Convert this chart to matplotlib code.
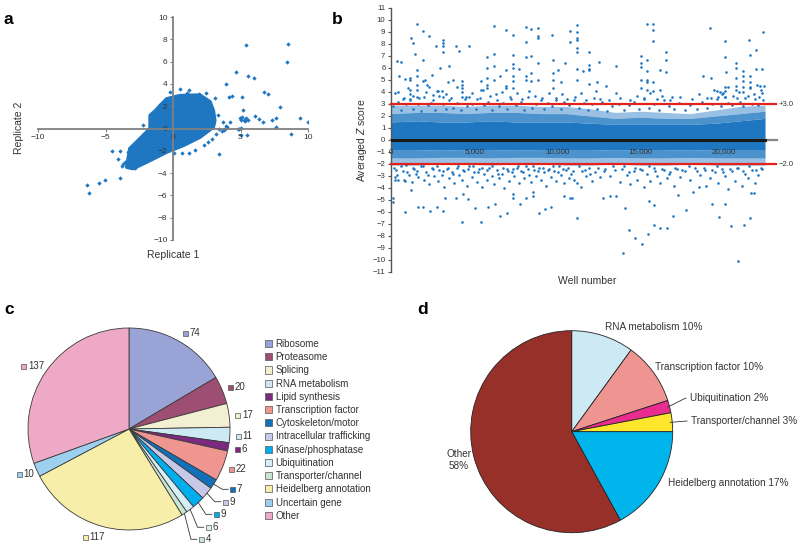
import numpy as np
import matplotlib
matplotlib.use("Agg")
import matplotlib.pyplot as plt
from matplotlib.patches import Polygon, Patch

plt.rcParams['font.family'] = ['Liberation Sans', 'DejaVu Sans']
plt.rcParams['mathtext.fontset'] = 'custom'
plt.rcParams['mathtext.it'] = 'Liberation Sans:italic'

BLUE = '#1f77c1'
GREY = '#333333'

# ---------------- Panel a data ----------------
a_blob_x = [-1.7, -1.3, -0.96, -0.47, 0.5, 2.0, 2.74, 2.99, 3.1, 2.99, 2.0, 0.77, -0.47, -1.7,
            -2.96, -3.43, -3.2, -2.44, -1.7]
a_blob_y = [1.17, 1.6, 2.06, 2.66, 2.95, 3.0, 2.4, 1.61, 0.72, 0.12, -0.78, -1.52, -2.12, -2.87,
            -3.6, -3.47, -1.8, -0.9, 0.0]
a_pts_x = [5.4, 8.5, 8.45, 4.7, 5.55, 6.0, 3.9, 4.15, 4.4, 5.1, 6.75, 7.0, 7.9, 5.15, 6.05,
           4.95, 5.1, 5.25, 5.4, 5.55, 5.0, 5.3, 6.4, 6.65, 7.3, 7.6, 9.4, 10.0, 7.65, 8.75,
           5.45, 5.0, 4.8, 4.9, 5.05, 3.4, 4.25, 3.95, 3.15, 0.1, 0.65, 1.15, 1.6,
           -6.4, -6.2, -5.5, -5.05, -3.9, -4.55, -4.05, -3.8, -2.25, 0.5, 1.2, 2.45,
           -2.6, -3.0, -3.3, -2.2, -1.95, 3.7, 3.8, 3.9, 2.9, 2.6, 2.3,
           -0.2, 1.0, 1.9, 3.1, -3.7, -3.55, -2.8, -3.9, 4.0, 3.6, 3.4, 3.3]
a_pts_y = [7.5, 7.6, 6.0, 5.1, 4.7, 4.55, 4.0, 2.85, 2.9, 2.8, 3.25, 3.1, 1.9, 1.7, 1.1,
           0.9, 1.0, 0.8, 0.95, 0.75, 0.75, 0.7, 0.85, 0.6, 0.8, 0.9, 0.9, 0.6, 0.15, -0.45,
           -0.6, -0.6, 0.0, -0.05, 0.05, -2.3, 0.55, 0.05, -0.45, -2.2, -2.2, -2.2, -1.9,
           -5.1, -5.75, -4.85, -4.6, -4.4, -2.05, -2.7, -3.35, 0.3, 3.5, 3.45, 3.2,
           -1.95, -2.05, -2.1, -1.3, -0.9, 0.6, -0.1, 0.2, -0.9, -1.2, -1.5,
           3.3, 3.2, 3.1, 2.7, -3.2, -3.0, -3.5, -2.0, 0.1, -0.2, 0.0, 1.2]
a_ticks_x = [-10, -5, 0, 5, 10]
a_ticks_y = [-10, -8, -6, -4, -2, 0, 2, 4, 6, 8, 10]

# ---------------- Panel b data ----------------
b_band_x = [0, 1500, 3000, 4500, 6000, 7500, 9000, 10500, 12000, 13500, 15000, 16500, 18000, 19500, 21000, 22500]
b_band_hi = [1.5, 1.6, 1.5, 1.5, 1.6, 1.5, 1.5, 1.5, 1.4, 1.3, 1.3, 1.3, 1.3, 1.4, 1.6, 1.8]
b_fuzz_hi_in = [2.2, 2.3, 2.3, 2.2, 2.3, 2.3, 2.2, 2.2, 2.0, 1.8, 1.9, 1.8, 1.8, 2.0, 2.2, 2.4]
b_fuzz_hi_out = [2.9, 2.9, 2.9, 2.8, 2.9, 2.9, 2.8, 2.8, 2.6, 2.3, 2.4, 2.3, 2.2, 2.5, 2.8, 2.9]
b_band_lo = [-0.85, -0.85, -0.8, -0.85, -0.85, -0.8, -0.85, -0.85, -0.85, -0.8, -0.85, -0.85, -0.8, -0.85, -0.85, -0.85]
b_fuzz_lo_in = [-1.5, -1.5, -1.45, -1.45, -1.5, -1.45, -1.45, -1.5, -1.5, -1.45, -1.5, -1.5, -1.45, -1.5, -1.5, -1.5]
b_fuzz_lo_out = [-2.1, -2.1, -2.0, -2.0, -2.1, -2.0, -2.0, -2.1, -2.1, -2.0, -2.1, -2.1, -2.0, -2.1, -2.1, -2.1]

b_hi_x = [380, 600, 440, 500, 840, 780, 1140, 1140, 1140, 1140, 1140, 1200, 1340, 1460, 1540, 1540, 1540,
          1540, 1540, 1540, 1940, 1940, 1900, 2040, 2140, 2300, 2300, 2440, 2540, 2700, 2740, 2940,
          3100, 3100, 3100, 3100, 3060, 3140, 3500, 3440, 3700, 3900, 4100, 4300, 4300, 4300, 4300,
          4300, 4700, 4700, 5400, 5400, 5780, 5780, 5780, 5780, 5780, 6180, 6200, 6200, 6200, 6580,
          6940, 6940, 6900, 6900, 7340, 7340, 7340, 7340, 7340, 7340, 7340, 7700, 8100, 8100, 8100,
          8100, 8100, 8440, 8440, 8440, 8440, 8840, 8840, 8840, 8840, 8840, 9660, 9740, 9740, 9740,
          9740, 10040, 10240, 10440, 10760, 10760, 11160, 11160, 11160, 11160, 11160, 11160, 11160,
          11160, 11520, 11920, 11920, 11920, 11920, 11920, 12400, 12520, 12320, 12960, 13520, 13520,
          15010, 15010, 15010, 15010, 15010, 15410, 15410, 15410, 15410, 15410, 15410, 15770, 15770,
          15770, 15770, 15770, 16170, 16170, 16570, 16570, 16570, 16910, 18770, 19210, 19250, 19270,
          19600, 19800, 19900, 20000, 20070, 20070, 20170, 20070, 20070, 20070, 20770, 20770, 20770,
          20770, 20770, 21170, 21170, 21170, 21170, 21170, 21540, 21620, 21620, 21620, 21620, 21980,
          21980, 22000, 22200, 22280, 22340, 22380, 22340]
b_hi_y = [6.6, 6.5, 4.0, 5.3, 5.1, 3.5, 5.2, 5.0, 4.2, 3.8, 3.3, 8.5, 8.1, 7.2, 9.65, 5.8, 5.3,
          4.6, 4.2, 3.6, 9.1, 6.65, 4.9, 5.0, 4.6, 4.4, 8.65, 5.4, 3.75, 7.8, 4.1, 6.0,
          8.3, 8.1, 7.8, 7.35, 4.1, 3.6, 6.2, 4.85, 5.0, 7.8, 7.4, 4.9, 4.6, 4.3, 4.0,
          3.6, 7.8, 3.6, 4.9, 4.2, 6.9, 6.0, 5.2, 4.6, 4.3, 9.5, 7.2, 6.2, 5.0, 5.3,
          9.15, 5.8, 4.5, 4.3, 8.75, 7.1, 6.3, 6.0, 5.35, 4.9, 4.3, 5.9, 9.45, 8.2, 6.9,
          5.35, 5.0, 9.25, 7.0, 5.55, 4.9, 9.3, 8.7, 8.5, 6.4, 5.0, 8.75, 6.65, 5.55, 5.0,
          4.3, 5.85, 4.85, 6.4, 9.1, 8.2, 9.6, 9.0, 8.5, 8.3, 7.65, 7.35, 5.95, 5.0,
          5.75, 7.3, 6.25, 5.95, 5.8, 4.65, 4.8, 6.5, 4.1, 4.5, 6.2, 3.95,
          7.0, 6.4, 6.1, 5.0, 4.3, 9.7, 6.7, 5.75, 5.0, 4.8, 4.2, 9.65, 9.2,
          8.25, 4.8, 4.1, 5.85, 4.15, 7.35, 6.65, 5.7, 3.6, 5.3, 9.3, 5.2, 3.5,
          4.1, 4.0, 3.8, 3.9, 8.25, 6.95, 5.7, 4.45, 4.05, 3.55, 6.4, 6.0, 5.2,
          4.5, 4.15, 5.75, 5.3, 4.9, 4.45, 4.0, 8.35, 7.1, 5.3, 4.85, 4.4, 7.5,
          5.9, 4.6, 4.5, 4.15, 3.9, 9.0, 5.9]
b_near_hi_x = [150, 400, 600, 900, 1150, 1300, 1600, 1800, 2000, 2200, 2400, 2650, 2900, 3100, 3300,
               3500, 3750, 4000, 4200, 4450, 4600, 4900, 5100, 5350, 5600, 5850, 6050, 6300, 6500,
               6750, 7000, 7200, 7500, 7800, 8000, 8250, 8500, 8700, 9000, 9200, 9450, 9700, 9950,
               10200, 10400, 10700, 11000, 11300, 11600, 11850, 12100, 12400, 12700, 13000, 13300,
               13700, 14000, 14300, 14600, 14900, 15200, 15500, 15800, 16100, 16400, 16700, 17000,
               17300, 17700, 18000, 18400, 18700, 19000, 19300, 19600, 19850, 20100, 20300, 20500,
               20800, 21000, 21200, 21450, 21700, 21900, 22100, 22350]
b_near_hi_y = [2.8, 3.2, 2.5, 3.0, 3.4, 2.6, 3.0, 2.4, 3.6, 2.9, 3.1, 2.5, 3.7, 3.0, 2.6,
               3.3, 2.7, 3.1, 2.5, 3.4, 2.8, 3.0, 2.6, 3.5, 2.9, 3.2, 2.5, 3.8, 2.8,
               3.1, 2.6, 3.4, 2.9, 3.2, 2.5, 3.6, 2.7, 3.0, 3.3, 2.6, 3.1, 2.8, 3.5,
               2.6, 3.2, 2.9, 3.3, 2.7, 3.1, 2.5, 3.0, 2.6, 3.2, 2.4, 2.8,
               3.0, 2.5, 2.9, 3.2, 2.6, 3.4, 2.7, 3.0, 2.5, 3.3, 2.8, 2.6,
               3.1, 2.5, 2.9, 2.6, 3.2, 2.7, 3.0, 3.4, 2.8, 3.6, 3.1, 2.9,
               3.5, 3.2, 2.8, 3.7, 3.0, 3.4, 2.9, 3.3]
b_mid_hi_x = [250, 700, 1000, 1350, 1700, 2100, 2500, 2850, 3300, 3600, 4000, 4500, 4850, 5200, 5550,
              5950, 6400, 6700, 7150, 7550, 7900, 8300, 8650, 9100, 9500, 9900, 10300, 10600, 11050,
              11400, 11750, 12200, 12600, 13100, 13800, 14400, 14800, 15200, 15600, 16000, 16300,
              16800, 17400, 18100, 18500, 19000, 19400, 19700, 20250, 20600, 20950, 21300, 21600,
              21850, 22150, 22450]
b_mid_hi_y = [3.9, 3.4, 4.3, 3.7, 3.5, 4.0, 3.3, 4.1, 3.8, 3.5, 4.4, 3.6, 3.9, 3.4, 4.2,
              3.7, 3.3, 4.0, 3.6, 3.9, 3.4, 4.1, 3.7, 3.5, 3.9, 3.3, 3.8, 3.4, 3.6,
              3.9, 3.3, 3.5, 3.4, 3.3, 3.5, 3.3, 3.7, 3.5, 3.9, 3.4, 3.7,
              3.3, 3.6, 3.4, 3.8, 3.5, 4.2, 3.6, 4.4, 3.7, 4.0, 3.5, 4.3,
              3.8, 3.6, 4.5]
b_lo_x = [100, 100, 840, 240, 240, 780, 1200, 1640, 1940, 2340, 2740, 3140, 3240, 3940, 4300, 4340,
          4640, 5080, 5440, 5840, 6240, 6580, 6980, 7340, 7340, 7740, 8140, 8540, 8540, 8900, 9280,
          9640, 10400, 10780, 10860, 11200, 12760, 13160, 13520, 13930, 14100, 14300, 14670, 15070,
          15470, 15510, 15810, 15850, 16210, 16610, 16970, 17270, 17750, 18170, 18530, 18930, 19330,
          19710, 20070, 20480, 20860, 21240, 21620, 21680, 21840]
b_lo_y = [-4.85, -5.15, -6.0, -3.3, -3.05, -3.3, -4.15, -5.55, -5.55, -5.95, -5.55, -5.95, -4.85,
          -4.8, -6.8, -4.5, -4.95, -5.65, -6.8, -5.55, -5.3, -6.35, -6.1, -4.5, -4.85, -5.35, -4.85,
          -4.7, -4.3, -6.1, -5.75, -5.55, -4.7, -4.85, -4.85, -6.5, -4.8, -4.65, -4.65, -9.45, -5.7,
          -7.5, -8.2, -8.65, -7.8, -5.05, -5.45, -7.1, -7.35, -7.3, -6.35, -4.6, -5.85, -4.35, -3.9,
          -3.85, -5.35, -6.45, -5.3, -7.2, -10.05, -7.1, -6.5, -4.45, -4.4]
b_near_lo_x = [200, 350, 420, 700, 820, 900, 1100, 1250, 1400, 1500, 1650, 1800, 2000, 2100, 2300,
               2450, 2600, 2800, 2900, 3050, 3200, 3350, 3500, 3650, 3800, 3950, 4100, 4250, 4400,
               4550, 4700, 4850, 5000, 5150, 5300, 5450, 5600, 5750, 5900, 6050, 6200, 6350, 6500,
               6650, 6800, 6950, 7100, 7250, 7400, 7550, 7700, 7850, 8000, 8150, 8300, 8450, 8600,
               8750, 8900, 9050, 9200, 9350, 9500, 9650, 9800, 9950, 10100, 10250, 10400, 10550,
               10700, 10850, 11000, 11200, 11400, 11500, 11700, 11900, 12100, 12300, 12600, 12900,
               13200, 13500, 13800, 14000, 14200, 14400, 14600, 14800, 15000, 15200, 15400, 15600,
               15800, 16000, 16200, 16400, 16600, 16800, 17000, 17200, 17400, 17700, 18000, 18300,
               18600, 18900, 19200, 19500, 19700, 19900, 20100, 20300, 20500, 20700, 20900, 21100,
               21300, 21500, 21700, 21900, 22100, 22300]
b_near_lo_y = [-2.3, -2.9, -3.3, -2.6, -3.4, -2.1, -2.9, -3.5, -2.4, -2.8, -3.1, -2.2, -3.3, -2.7, -3.7,
               -2.3, -3.0, -3.4, -2.5, -2.9, -3.9, -2.4, -3.2, -2.7, -3.6, -2.3, -2.9, -3.3, -2.6,
               -3.8, -2.2, -3.1, -2.7, -3.5, -2.4, -3.9, -2.8, -3.3, -2.3, -3.0, -3.7, -2.5, -3.2,
               -2.8, -4.0, -2.4, -3.4, -2.7, -3.0, -2.3, -3.6, -2.6, -3.2, -2.2, -2.9, -3.5, -2.5,
               -3.0, -2.3, -3.3, -2.7, -3.8, -2.4, -3.1, -2.6, -3.4, -2.2, -2.9, -3.6, -2.5,
               -3.2, -2.8, -3.3, -3.6, -3.9, -2.6, -3.0, -2.3, -3.4, -2.7, -3.1, -2.4,
               -3.0, -2.5, -3.5, -2.2, -2.9, -3.7, -2.6, -3.3, -2.4, -3.9, -2.8, -3.4,
               -2.3, -3.0, -3.6, -2.5, -3.2, -2.7, -3.8, -2.4, -3.1, -2.6, -3.3, -2.3,
               -2.9, -2.5, -3.2, -2.7, -3.6, -2.4, -3.0, -4.1, -2.6, -3.4, -2.3, -3.8,
               -2.8, -3.2, -2.5, -3.6, -2.9, -2.4]
b_mid_lo_x = [300, 600, 950, 1300, 1550, 1900, 2200, 2550, 2750, 3100, 3450, 3700, 4050, 4350, 4650,
              4950, 5250, 5500, 5800, 6100, 6450, 6750, 7050, 7350, 7650, 7950, 8250, 8550, 8850,
              9150, 9450, 9750, 10050, 10350, 10650, 10950, 11300, 11650, 12000, 12450, 12800, 13350,
              13900, 14300, 14700, 15100, 15500, 15900, 16300, 16700, 17100, 17500, 17900, 18400,
              18800, 19300, 19600, 20000, 20400, 20800, 21200, 21550, 21950, 22250]
b_mid_lo_y = [-2.5, -2.2, -2.7, -2.3, -2.6, -2.2, -2.9, -2.4, -2.2, -2.6, -2.3, -2.8, -2.2, -2.5, -2.4,
              -2.2, -2.7, -2.3, -2.5, -2.2, -2.8, -2.3, -2.6, -2.4, -2.2, -2.7, -2.4, -2.2, -2.6,
              -2.3, -2.5, -2.2, -2.7, -2.4, -2.3, -2.6, -2.2, -2.5, -2.8, -2.3, -2.6, -2.2,
              -2.4, -2.7, -2.3, -2.5, -2.2, -2.6, -2.4, -2.8, -2.3, -2.5, -2.2, -2.6,
              -2.3, -2.5, -2.2, -2.7, -2.4, -2.3, -2.6, -2.2, -2.5, -2.3]
b_thresholds = [3.0, -2.0]
b_threshold_labels = ['+3.0', '\u22122.0']
b_xtick_vals = [0, 5000, 10000, 15000, 20000]
b_xtick_labels = ['0', '5,000', '10,000', '15,000', '20,000']
b_n_wells = 22500

# ---------------- Panel c data ----------------
c_labels = ['Ribosome', 'Proteasome', 'Splicing', 'RNA metabolism', 'Lipid synthesis',
            'Transcription factor', 'Cytoskeleton/motor', 'Intracellular trafficking',
            'Kinase/phosphatase', 'Ubiquitination', 'Transporter/channel',
            'Heidelberg annotation', 'Uncertain gene', 'Other']
c_values = [74, 20, 17, 11, 6, 22, 7, 9, 9, 6, 4, 117, 10, 137]
c_colors = ['#9aa3d5', '#9e4e73', '#f3efd2', '#cdeaf4', '#7b2a7f', '#ee968f', '#1170b8',
            '#c8c9e8', '#00aeef', '#d5eef8', '#c9e6d3', '#f7efa9', '#9dd0ee', '#eda9c6']
c_label_pos = [(0.554, 0.953), (1.0, 0.419), (1.072, 0.139), (1.079, -0.069), (1.072, -0.201),
               (1.01, -0.399), (1.023, -0.597), (0.950, -0.720), (0.861, -0.845), (0.779, -0.973),
               (0.713, -1.092), (-0.436, -1.066), (-1.089, -0.449), (-1.046, 0.624)]
c_leader = [False, False, False, False, False, False, True, True, True, True, True, False, False, False]

# ---------------- Panel d data ----------------
d_labels = ['RNA metabolism', 'Transcription factor', 'Ubiquitination', 'Transporter/channel',
            'Heidelberg annotation', 'Other']
d_values = [10, 10, 2, 3, 17, 58]
d_colors = ['#cde9f4', '#ee9592', '#e92d8e', '#fde62b', '#00b5ec', '#98302a']
d_label_pos = [(0.330, 1.037), (0.824, 0.641), (1.171, 0.334), (1.181, 0.106), (0.953, -0.508),
               (-1.116, -0.280)]
d_leader = [False, False, True, True, False, False]

# =====================================================
fig = plt.figure(figsize=(8.0, 5.48), dpi=100)
W, H = 800.0, 548.0

def fax(l, t, r, b):
    return fig.add_axes([l / W, 1 - b / H, (r - l) / W, (b - t) / H])

# ---------- Panel a ----------
ax = fax(38, 17, 308, 240)
ax.set_xlim(-10, 10)
ax.set_ylim(-10, 10)
ax.add_patch(Polygon(np.column_stack([a_blob_x, a_blob_y]), closed=True, facecolor=BLUE,
                     edgecolor=BLUE, lw=2.5, zorder=1, joinstyle='round'))
ax.scatter(a_pts_x, a_pts_y, marker='D', s=5, color=BLUE, linewidths=0, zorder=1)
for s in ['top', 'right']:
    ax.spines[s].set_visible(False)
ax.spines['left'].set_position(('data', 0))
ax.spines['bottom'].set_position(('data', 0))
for s in ['left', 'bottom']:
    ax.spines[s].set_color('#808080')
    ax.spines[s].set_linewidth(1.3)
ax.set_xticks(a_ticks_x)
ax.set_yticks(a_ticks_y)
ax.set_xticklabels([f'{v}'.replace('-', '\u2212') for v in a_ticks_x])
ax.set_yticklabels([f'{v}'.replace('-', '\u2212') for v in a_ticks_y])
ax.tick_params(axis='both', direction='out', length=2.5, width=0.8, color='#808080',
               labelsize=6, labelcolor=GREY, pad=1.5)
fig.text(173 / W, 1 - 255 / H, 'Replicate 1', ha='center', va='center', fontsize=7.5, color=GREY)
fig.text(19 / W, 1 - 128 / H, 'Replicate 2', ha='center', va='center', rotation=90,
         fontsize=7.5, color=GREY)

# ---------- Panel b ----------
bx = fax(391, 8, 780, 272)
bx.set_xlim(0, 23400)
bx.set_ylim(-11, 11)
bx.fill_between(b_band_x, b_band_lo, b_band_hi, color=BLUE, lw=0, zorder=1)
bx.fill_between(b_band_x, b_band_hi, b_fuzz_hi_in, color=BLUE, alpha=0.8, lw=0, zorder=1)
bx.fill_between(b_band_x, b_fuzz_hi_in, b_fuzz_hi_out, color=BLUE, alpha=0.45, lw=0, zorder=1)
bx.fill_between(b_band_x, b_fuzz_lo_in, b_band_lo, color=BLUE, alpha=0.8, lw=0, zorder=1)
bx.fill_between(b_band_x, b_fuzz_lo_out, b_fuzz_lo_in, color=BLUE, alpha=0.45, lw=0, zorder=1)
for xs, ys in [(b_near_hi_x, b_near_hi_y), (b_mid_hi_x, b_mid_hi_y), (b_hi_x, b_hi_y),
               (b_near_lo_x, b_near_lo_y), (b_mid_lo_x, b_mid_lo_y), (b_lo_x, b_lo_y)]:
    bx.scatter(xs, ys, s=3.5, color=BLUE, linewidths=0, zorder=2)
bx.plot([0, 23200], [0, 0], color='#888888', lw=1.6, zorder=3, clip_on=False)
bx.plot([0, b_n_wells], [0, 0], color='#1a1a1a', lw=2.2, zorder=4)
for thr, lab in zip(b_thresholds, b_threshold_labels):
    bx.plot([0, 23150], [thr, thr], color='#e3231b', lw=1.6, zorder=5, clip_on=False)
    bx.text(23300, thr, lab, fontsize=5.5, color=GREY, va='center', ha='left', clip_on=False)
for v, lab in zip(b_xtick_vals, b_xtick_labels):
    bx.text(v, -1.0, lab, fontsize=5.8, color=GREY, ha='center', va='center', zorder=6)
for s in ['top', 'right', 'bottom']:
    bx.spines[s].set_visible(False)
bx.spines['left'].set_color('#555555')
bx.spines['left'].set_linewidth(1.0)
bx.set_xticks([])
bx.set_yticks(range(-11, 12))
bx.set_yticklabels([str(v).replace('-', '\u2212') for v in range(-11, 12)])
bx.tick_params(axis='y', direction='out', length=2.5, width=0.8, color='#555555',
               labelsize=5.6, labelcolor=GREY, pad=1.5)
fig.text(362 / W, 1 - 140 / H, 'Averaged $\\mathit{Z}$ score', ha='center', va='center',
         rotation=90, fontsize=7.5, color=GREY)
fig.text(587 / W, 1 - 281 / H, 'Well number', ha='center', va='center', fontsize=7.5, color=GREY)

# ---------- Panel c ----------
cx = fax(0, 300, 260, 548)
wedges, _ = cx.pie(c_values, colors=c_colors, startangle=90, counterclock=False, radius=1.0,
                   wedgeprops=dict(edgecolor='#3a3a3a', linewidth=0.6))
cx.set_xlim((0 - 129) / 101, (260 - 129) / 101)
cx.set_ylim((429 - 548) / 101, (429 - 300) / 101)
cx.set_aspect('auto')
cx.axis('off')
for w, val, col, (lx, ly), lead in zip(wedges, c_values, c_colors, c_label_pos, c_leader):
    if lead:
        ang = np.deg2rad((w.theta1 + w.theta2) / 2)
        rx, ry = np.cos(ang), np.sin(ang)
        cx.plot([rx, lx - 0.1, lx - 0.04], [ry, ly, ly], color='#333333', lw=0.6, clip_on=False)
    cx.plot([lx], [ly], marker='s', ms=3.6, mfc=col, mec='#555555', mew=0.5, clip_on=False)
    cx.text(lx + 0.045, ly, str(val), fontsize=7, color=GREY, va='center', ha='left')

handles = [Patch(facecolor=c, edgecolor='#555555', linewidth=0.5) for c in c_colors]
fig.legend(handles, c_labels, loc='upper left', bbox_to_anchor=(265 / W, 1 - 339 / H),
           frameon=False, fontsize=7, handlelength=0.75, handleheight=0.75, handletextpad=0.35,
           labelspacing=0.33, borderpad=0, borderaxespad=0, labelcolor=GREY)

# ---------- Panel d ----------
dx = fax(420, 300, 800, 548)
wd, _ = dx.pie(d_values, colors=d_colors, startangle=90, counterclock=False, radius=1.0,
               wedgeprops=dict(edgecolor='#222222', linewidth=0.6))
dx.set_xlim((420 - 571.7) / 101, (800 - 571.7) / 101)
dx.set_ylim((431.7 - 548) / 101, (431.7 - 300) / 101)
dx.set_aspect('auto')
dx.axis('off')
for w, lab, val, (lx, ly), lead in zip(wd, d_labels, d_values, d_label_pos, d_leader):
    if lead:
        ang = np.deg2rad((w.theta1 + w.theta2) / 2)
        rx, ry = np.cos(ang), np.sin(ang)
        dx.plot([rx * 0.98, lx - 0.04], [ry * 0.98, ly], color='#333333', lw=0.6, clip_on=False)
    if lab == 'Other':
        dx.text(lx, ly, f'{lab}\n{val}%', fontsize=7.2, color=GREY, ha='center', va='center',
                multialignment='center', linespacing=1.2)
    else:
        dx.text(lx, ly, f'{lab} {val}%', fontsize=7.2, color=GREY, ha='left', va='center')

# ---------- panel letters ----------
for (px, py, t) in [(4, 24, 'a'), (332, 24, 'b'), (4, 314, 'c'), (417, 314, 'd')]:
    fig.text(px / W, 1 - py / H, t, fontsize=12.5, fontweight='bold', ha='left', va='baseline')

fig.savefig('out.png', dpi=100)
